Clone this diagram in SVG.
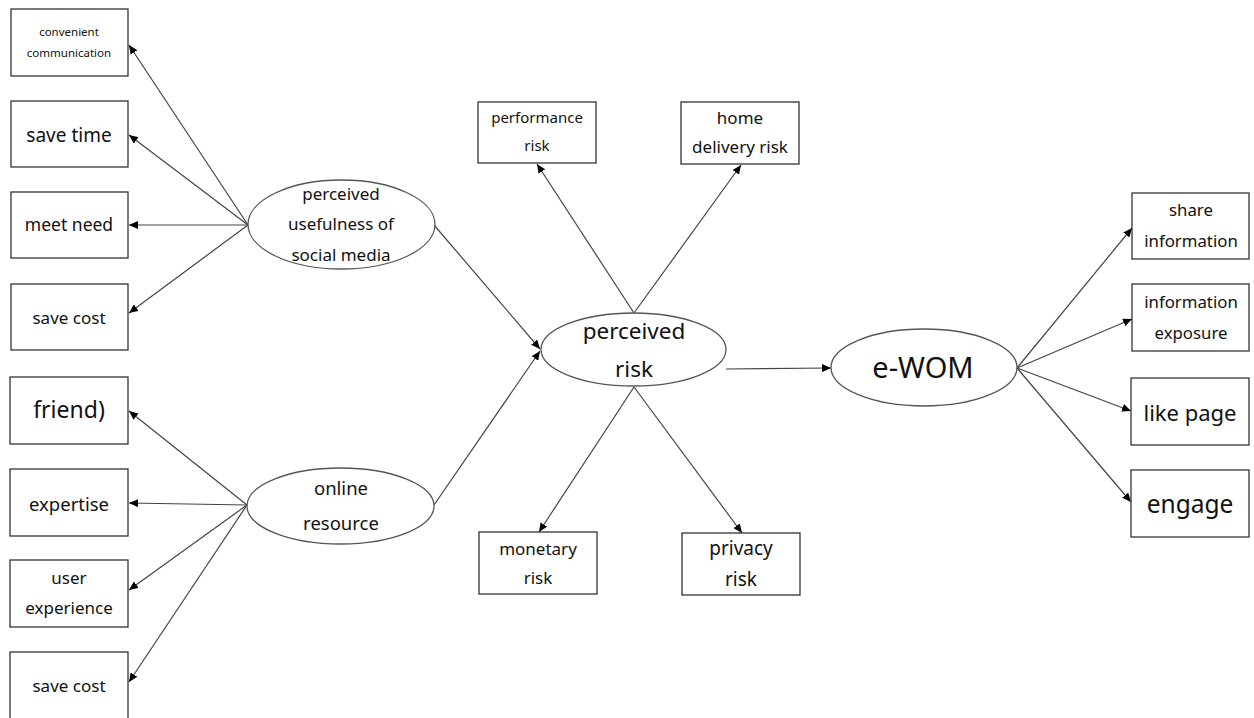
<svg xmlns="http://www.w3.org/2000/svg" width="1254" height="718" viewBox="0 0 1254 718">
<style>
.box{fill:#fff;stroke:#333;stroke-width:1.3}
.ell{fill:#fff;stroke:#555;stroke-width:1.3}
.con{stroke:#444;stroke-width:1.2;fill:none;marker-end:url(#ah)}
text{font-family:"Noto Sans","Open Sans",sans-serif;fill:#111;text-anchor:middle;dominant-baseline:central}
</style>
<defs>
<marker id="ah" markerUnits="userSpaceOnUse" markerWidth="10" markerHeight="8" refX="9" refY="4" orient="auto">
<path d="M0,0 L9,4 L0,8 Z" fill="#000"/>
</marker>
</defs>
<rect width="1254" height="718" fill="#fff"/>
<g id="connectors">
<line class="con" x1="248" y1="225" x2="129" y2="45"/>
<line class="con" x1="248" y1="225" x2="129" y2="135"/>
<line class="con" x1="248" y1="225" x2="129" y2="225"/>
<line class="con" x1="248" y1="225" x2="129" y2="313"/>
<line class="con" x1="247" y1="505" x2="129" y2="411"/>
<line class="con" x1="247" y1="505" x2="129" y2="503"/>
<line class="con" x1="247" y1="505" x2="129" y2="590"/>
<line class="con" x1="247" y1="505" x2="129" y2="682"/>
<line class="con" x1="434" y1="225" x2="540" y2="349"/>
<line class="con" x1="434" y1="505" x2="540" y2="351"/>
<line class="con" x1="634" y1="313" x2="537" y2="164"/>
<line class="con" x1="634" y1="313" x2="741" y2="165"/>
<line class="con" x1="634" y1="387" x2="539" y2="532"/>
<line class="con" x1="634" y1="387" x2="742" y2="533"/>
<line class="con" x1="726" y1="369" x2="831" y2="368"/>
<line class="con" x1="1017" y1="368" x2="1132" y2="228"/>
<line class="con" x1="1017" y1="368" x2="1132" y2="319"/>
<line class="con" x1="1017" y1="368" x2="1131" y2="411"/>
<line class="con" x1="1017" y1="368" x2="1131" y2="502"/>
</g>
<g id="n-convenient"><rect class="box" x="11" y="9" width="117" height="67"/><text x="69" y="31" font-size="11.5">convenient</text><text x="69" y="52" font-size="11.5">communication</text></g>
<g id="n-savetime"><rect class="box" x="11" y="101" width="117" height="66"/><text x="69" y="135" font-size="19">save time</text></g>
<g id="n-meetneed"><rect class="box" x="11" y="192" width="117" height="66"/><text x="69" y="224" font-size="17.5">meet need</text></g>
<g id="n-savecost1"><rect class="box" x="11" y="284" width="117" height="66"/><text x="69" y="317" font-size="17">save cost</text></g>
<g id="n-usefulness"><ellipse class="ell" cx="341.5" cy="224.5" rx="93.5" ry="44.5"/><text x="341" y="193" font-size="17">perceived</text><text x="341" y="223" font-size="17">usefulness of</text><text x="341" y="254" font-size="17">social media</text></g>
<g id="n-friend"><rect class="box" x="10" y="377" width="118" height="67"/><text x="69" y="409" font-size="23">friend)</text></g>
<g id="n-expertise"><rect class="box" x="10" y="469" width="118" height="67"/><text x="69" y="503" font-size="18.5">expertise</text></g>
<g id="n-userexp"><rect class="box" x="10" y="560" width="118" height="67"/><text x="69" y="577" font-size="17">user</text><text x="69" y="607" font-size="17">experience</text></g>
<g id="n-savecost2"><rect class="box" x="10" y="652" width="118" height="70"/><text x="69" y="685" font-size="17">save cost</text></g>
<g id="n-online"><ellipse class="ell" cx="340.5" cy="506" rx="93.5" ry="38"/><text x="341" y="487" font-size="18.5">online</text><text x="341" y="522" font-size="18.5">resource</text></g>
<g id="n-performance"><rect class="box" x="478" y="102" width="118" height="61"/><text x="537" y="117" font-size="15">performance</text><text x="537" y="145" font-size="15">risk</text></g>
<g id="n-delivery"><rect class="box" x="681" y="102" width="118" height="62"/><text x="740" y="117" font-size="17">home</text><text x="740" y="146" font-size="17">delivery risk</text></g>
<g id="n-risk"><ellipse class="ell" cx="633.5" cy="349.5" rx="92.5" ry="36.5"/><text x="634" y="330" font-size="22.5">perceived</text><text x="634" y="368" font-size="22.5">risk</text></g>
<g id="n-monetary"><rect class="box" x="479" y="532" width="118" height="62"/><text x="538" y="548" font-size="17">monetary</text><text x="538" y="577" font-size="17">risk</text></g>
<g id="n-privacy"><rect class="box" x="682" y="533" width="118" height="62"/><text x="741" y="548" font-size="19">privacy</text><text x="741" y="579" font-size="19">risk</text></g>
<g id="n-ewom"><ellipse class="ell" cx="924" cy="367.5" rx="93" ry="38.5"/><text x="923" y="366" font-size="29">e-WOM</text></g>
<g id="n-share"><rect class="box" x="1132" y="193" width="117" height="66"/><text x="1191" y="209" font-size="16.8">share</text><text x="1191" y="240" font-size="16.8">information</text></g>
<g id="n-exposure"><rect class="box" x="1132" y="284" width="117" height="67"/><text x="1191" y="301" font-size="16.8">information</text><text x="1191" y="332" font-size="16.8">exposure</text></g>
<g id="n-likepage"><rect class="box" x="1131" y="378" width="118" height="67"/><text x="1190" y="412" font-size="22">like page</text></g>
<g id="n-engage"><rect class="box" x="1131" y="470" width="118" height="67"/><text x="1190" y="503" font-size="24.5">engage</text></g>
</svg>
